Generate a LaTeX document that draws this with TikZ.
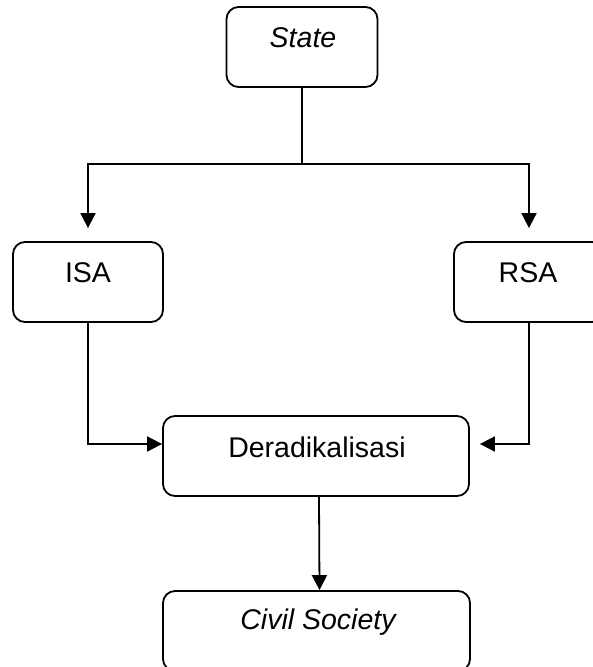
\documentclass[tikz,border=0pt]{standalone}
\usepackage{fontspec}
\setmainfont{Liberation Sans}
\usetikzlibrary{arrows.meta}
\begin{document}
\begin{tikzpicture}[x=1pt,y=-1pt,
  box/.style={draw, line width=1.8pt, rounded corners=12pt, inner sep=0pt, minimum height=80pt},
  txt/.style={font=\fontsize{28.5}{34}\selectfont, inner sep=0pt},
  conn/.style={line width=1.8pt, -{Triangle[length=15pt,width=15pt]}},
  plain/.style={line width=1.8pt}]
\useasboundingbox (0,0) rectangle (593,667);
\clip (0,0) rectangle (593,667);
\node[box, minimum width=151pt] (state) at (302,47) {};
\node[txt] (stateT) at (303,38) {\itshape State};
\node[box, minimum width=150pt] (isa) at (88,282) {};
\node[txt] (isaT) at (88,273) {ISA};
\node[box, minimum width=150pt] (rsa) at (529,282) {};
\node[txt] (rsaT) at (528,273) {RSA};
\node[box, minimum width=306pt] (der) at (316,456) {};
\node[txt] (derT) at (317,447) {Deradikalisasi};
\node[box, minimum width=307pt] (civ) at (316.5,631) {};
\node[txt] (civT) at (318,622) {\itshape Civil Society};
\coordinate (j) at (302,164);
\draw[plain] (state.south) -- (j);
\draw[conn, shorten >=13pt] (j) -| (isa.north);
\draw[conn, shorten >=13pt] (j) -| (rsa.north);
\draw[conn] (isa.south) |- ([yshift=12pt]der.west);
\draw[conn, shorten >=10pt] (rsa.south) |- ([yshift=12pt]der.east);
\draw[conn] ([xshift=3pt]der.south) -- ([xshift=3pt]civ.north);
\end{tikzpicture}
\end{document}
